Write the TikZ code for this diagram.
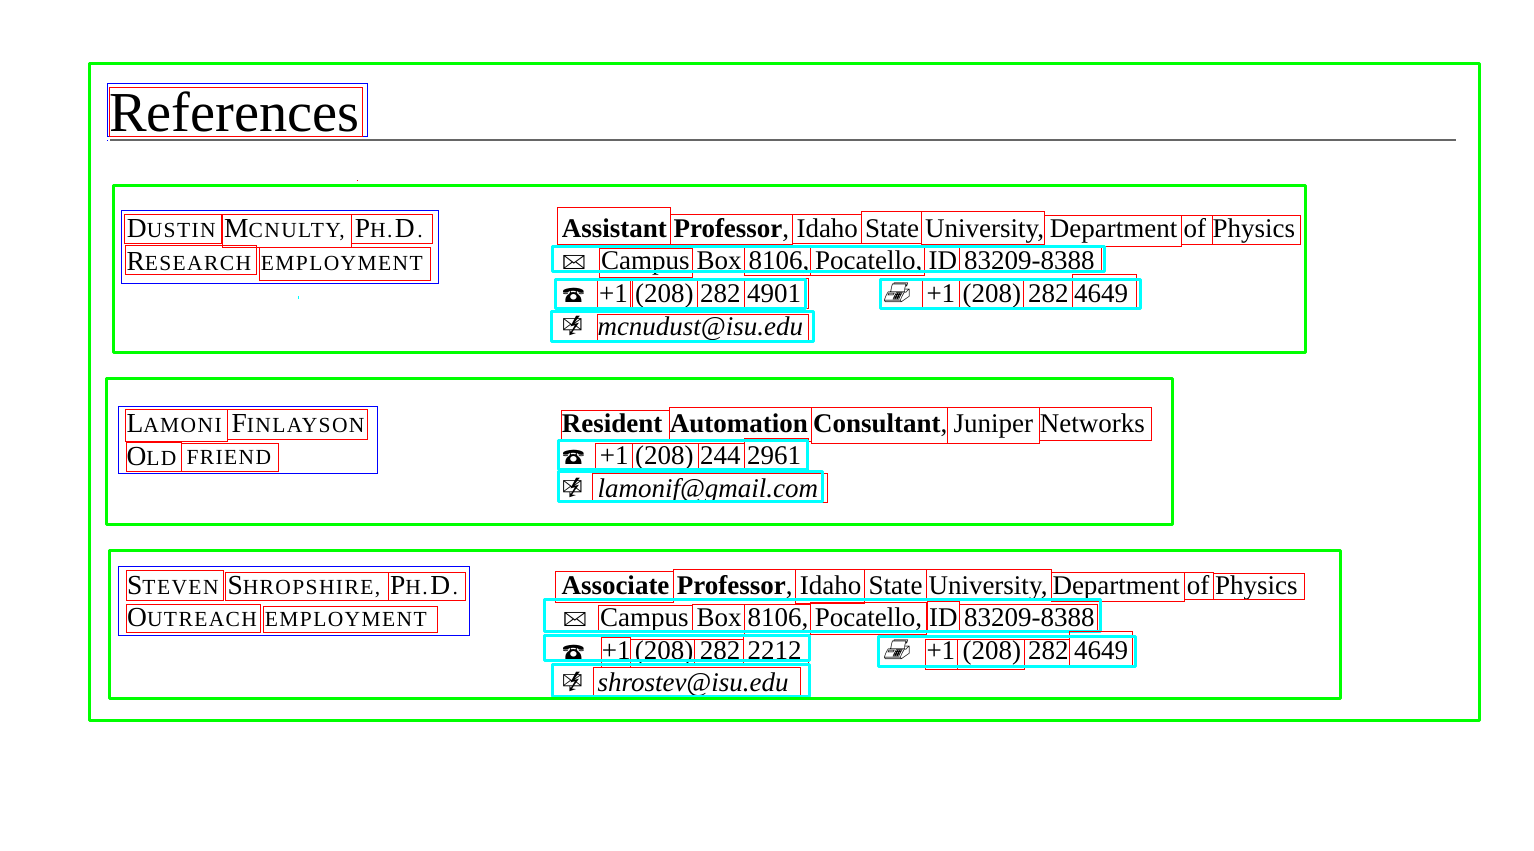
\documentclass[tikz,border=0pt]{standalone}
\usepackage{fontspec}
\usepackage{marvosym}
\setmainfont{Liberation Serif}
\newfontfamily\spf[LetterSpace=6.5]{Liberation Serif}
\newcounter{wordno}
\newcommand{\Bd}{\fontsize{27}{27}\selectfont}
\newcommand{\Sc}[2]{{\spf\fontsize{27.5}{27.5}\selectfont #1\fontsize{21.5}{21.5}\selectfont #2}}
\newcommand{\PhD}{{\spf\fontsize{27.5}{27.5}\selectfont P\fontsize{21.5}{21.5}\selectfont H.\hspace{2.5pt}\fontsize{27.5}{27.5}\selectfont D\hspace{2.5pt}\fontsize{21.5}{21.5}\selectfont .}}
\newcommand{\Tx}[3]{\stepcounter{wordno}\node[wordtext] (w\thewordno) at ([xshift=-0.8pt]#1,#2) {#3};}
\newcommand{\Tb}[3]{\stepcounter{wordno}\node[wordtext] (w\thewordno) at ([xshift=-0.8pt,yshift=-1pt]#1,#2) {#3};}
\newcommand{\Rb}[4]{\draw[redbox] (#1,#2) rectangle (#3,#4);}
\newcommand{\Blu}[4]{\draw[bluebox] (#1,#2) rectangle (#3,#4);}
\newcommand{\Cy}[4]{\draw[cyanbox] (#1,#2) rectangle (#3,#4);}
\newcommand{\Gr}[4]{\draw[greenbox] (#1,#2) rectangle (#3,#4);}
\definecolor{cyanx}{RGB}{0,255,255}
\definecolor{greenx}{RGB}{0,255,0}
\definecolor{redx}{RGB}{255,0,0}
\definecolor{bluex}{RGB}{0,0,255}
\tikzset{
  wordtext/.style={anchor=base west,inner sep=0pt,outer sep=0pt,font=\Bd},
  redbox/.style={draw=redx,line width=0.8pt},
  bluebox/.style={draw=bluex,line width=0.8pt},
  cyanbox/.style={draw=cyanx,line width=3pt,line join=round},
  greenbox/.style={draw=greenx,line width=3pt,line join=round}
}
\begin{document}
\begin{tikzpicture}[x=1pt,y=-1pt]
\useasboundingbox (0,0) rectangle (1534,851);
\fill[white] (0,0) rectangle (1534,851);
% title
\node[wordtext,font=\fontsize{56.4}{56.4}\selectfont] (title) at (109,131) {References};
\draw[gray!80!black,line width=1.4pt] (110,140) -- (1456,140);
\Blu{107.3}{83.7}{367.3}{136.7}
\Rb{109.3}{87.7}{362.7}{136.7}
\fill[bluex] (107,140) rectangle (108,141);
\fill[redx] (357,180) rectangle (358,181);
\fill[cyanx] (297.5,296) rectangle (298.5,299);
% ---- block 1
\Tx{127.7}{237}{\Sc{D}{USTIN}}
\Tx{225}{237}{\Sc{M}{CNULTY,}}
\Tx{355.7}{237}{\PhD}
\Tx{127.3}{270}{\Sc{R}{ESEARCH}}
\Tx{261.7}{270}{\Sc{}{EMPLOYMENT}}
\Blu{121.7}{210.3}{438.3}{283.3}
\Rb{124.3}{214.3}{221.7}{243.3}
\Rb{222.3}{214.3}{351.3}{247.3}
\Rb{351.3}{214.3}{432.3}{243.3}
\Rb{125.7}{245.7}{256.3}{274.3}
\Rb{259.3}{247.3}{430.3}{280.3}
\Tb{562.7}{236.7}{\textbf{Assistant}}
\Tb{674.3}{236.7}{\textbf{Professor},}
\Tb{797.3}{236.7}{Idaho}
\Tb{866}{236.7}{State}
\Tb{926}{236.7}{University,}
\Tb{1050.7}{236.7}{Department}
\Tb{1184.3}{236.7}{of}
\Tb{1213.3}{236.7}{Physics}
\Rb{557.3}{207.3}{670.7}{244.7}
\Rb{670.7}{214.7}{792.3}{244.7}
\Rb{792.3}{214.7}{861.3}{243}
\Rb{861.3}{211.3}{921.3}{243}
\Rb{921.7}{211.3}{1044.7}{244.7}
\Rb{1044.7}{215.3}{1181.3}{246.3}
\Rb{1181.3}{215.3}{1212.3}{244}
\Rb{1212.3}{215.3}{1300.3}{244}
\Tb{563}{268.8}{\Letter}
\Tb{602}{268.8}{Campus}
\Tb{697.3}{268.8}{Box}
\Tb{749.3}{268.8}{8106,}
\Tb{816}{268.8}{Pocatello,}
\Tb{929.3}{268.8}{ID}
\Tb{965}{268.8}{83209-8388}
\Rb{599.3}{248.3}{692.3}{277.3}
\Rb{692.3}{244.3}{744.3}{271.7}
\Rb{744.3}{246}{810.7}{275.3}
\Rb{810.7}{246}{924.3}{275.3}
\Rb{924.7}{244.3}{959.7}{271.7}
\Rb{959.7}{246.7}{1101.7}{271.7}
\Cy{552.3}{246}{1104}{271.7}
\Tb{563}{301.7}{\Telefon}
\Tb{600}{301.7}{+1}
\Tb{636}{301.7}{(208)}
\Tb{701}{301.7}{282}
\Tb{748}{301.7}{4901}
\Rb{597.3}{279.3}{630.7}{307.3}
\Rb{632.7}{279.3}{697.3}{309.3}
\Rb{697.3}{279.3}{744}{308.3}
\Rb{744}{278.3}{808.3}{308.3}
\Cy{555}{279.3}{805}{308.3}
\Tb{885}{301.7}{\Faxmachine}
\Tb{927.3}{301.7}{+1}
\Tb{963.3}{301.7}{(208)}
\Tb{1029}{301.7}{282}
\Tb{1075}{301.7}{4649}
\Rb{922.7}{279.3}{959.7}{308}
\Rb{959.7}{279.3}{1023.3}{308}
\Rb{1023.3}{279.3}{1072.7}{308}
\Rb{1072.7}{274.7}{1136.7}{308}
\Cy{880}{279.3}{1140}{308.3}
\Tb{563}{334}{\Email}
\Tb{598.3}{334.3}{\textit{mcnudust@isu.edu}}
\Rb{597.3}{314.3}{808.3}{340}
\Cy{551.7}{311.7}{813.3}{341.7}
% ---- block 2
\Tx{127.3}{432.3}{\Sc{L}{AMONI}}
\Tx{232.3}{432.3}{\Sc{F}{INLAYSON}}
\Tx{127.3}{465}{\Sc{O}{LD}}
\Tx{187.3}{464.5}{\Sc{}{FRIEND}}
\Blu{118.3}{406.3}{377.3}{473.3}
\Rb{125.7}{409.3}{227.7}{441.3}
\Rb{227.7}{409.3}{367.7}{439.3}
\Rb{126.3}{442}{181.7}{471.3}
\Rb{181.7}{443.3}{278.3}{471.3}
\Tb{562.7}{431.7}{\textbf{Resident}}
\Tb{670.7}{431.7}{\textbf{Automation}}
\Tb{814}{431.7}{\textbf{Consultant},}
\Tb{954.3}{431.7}{Juniper}
\Tb{1040.7}{431.7}{Networks}
\Rb{561.7}{410.3}{669.3}{441.7}
\Rb{669.3}{407.3}{811.3}{441}
\Rb{811.3}{407.3}{947.3}{443.3}
\Rb{947.3}{407.3}{1039.3}{443.3}
\Rb{1039.3}{407.3}{1151.3}{440.3}
\Tb{563}{463.5}{\Telefon}
\Tb{600.7}{463.5}{+1}
\Tb{636}{463.5}{(208)}
\Tb{701}{463.5}{244}
\Tb{748}{463.5}{2961}
\Rb{595.7}{443}{632.7}{469}
\Rb{632.7}{443}{698.3}{469}
\Rb{698.3}{443}{744}{469}
\Rb{744}{438.3}{808.3}{469.3}
\Cy{558.3}{440.7}{807.7}{469.3}
\Tb{563}{496}{\Email}
\Tb{598.3}{496.7}{\textit{lamonif@gmail.com}}
\Rb{592.7}{473.3}{827.3}{502.3}
\Cy{558.3}{471}{822.3}{501.7}
% ---- block 3
\Tx{128}{594}{\Sc{S}{TEVEN}}
\Tx{228.3}{594}{\Sc{S}{HROPSHIRE,}}
\Tx{391}{594}{\PhD}
\Tx{128}{626}{\Sc{O}{UTREACH}}
\Tx{265.7}{626}{\Sc{}{EMPLOYMENT}}
\Blu{118.3}{566.3}{469.3}{635.3}
\Rb{126.3}{570.3}{223.7}{600.3}
\Rb{225.7}{572.7}{388.3}{600.3}
\Rb{388.3}{572.7}{465.7}{600.3}
\Rb{126.3}{604.7}{260.7}{632.3}
\Rb{263.3}{606.3}{437.7}{632.3}
\Tb{562.3}{593.3}{\textbf{Associate}}
\Tb{677.7}{593.3}{\textbf{Professor},}
\Tb{800.7}{593.3}{Idaho}
\Tb{869.3}{593.3}{State}
\Tb{929.3}{593.3}{University,}
\Tb{1053.3}{593.3}{Department}
\Tb{1187.7}{593.3}{of}
\Tb{1216}{593.3}{Physics}
\Rb{555.3}{571.7}{673}{602.3}
\Rb{673}{569.7}{795.3}{600}
\Rb{795.3}{569.7}{864.3}{603.3}
\Rb{864.3}{569.7}{926.3}{600}
\Rb{926.3}{569.7}{1051.7}{600}
\Rb{1051.7}{572.7}{1184.3}{601.3}
\Rb{1184.3}{572.7}{1213.3}{599.3}
\Rb{1213.3}{573.3}{1304.3}{599.3}
\Tb{564}{625.5}{\Letter}
\Tb{601}{625.5}{Campus}
\Tb{697.3}{625.5}{Box}
\Tb{748.3}{625.5}{8106,}
\Tb{815.7}{625.5}{Pocatello,}
\Tb{930}{625.5}{ID}
\Tb{965}{625.5}{83209-8388}
\Rb{598.3}{605}{692.3}{631.7}
\Rb{692.3}{604.3}{744.3}{631.7}
\Rb{744.3}{604.3}{810.7}{634}
\Rb{810.7}{602.7}{926.7}{634}
\Rb{927.3}{601.7}{959.3}{631.7}
\Rb{959.3}{604.3}{1097.7}{631.7}
\Cy{544}{599.3}{1100}{631.7}
\Tb{563}{658.3}{\Telefon}
\Tb{602.7}{658.3}{+1}
\Tb{635.7}{658.3}{(208)}
\Tb{700.7}{658.3}{282}
\Tb{748.3}{658.3}{2212}
\Rb{601.3}{637.3}{630.7}{667.3}
\Rb{630.7}{639.3}{694.3}{660}
\Rb{694.3}{639.3}{743}{665}
\Rb{743}{636.3}{808.3}{665}
\Cy{544}{635.7}{809}{660}
\Tb{885}{658.3}{\Faxmachine}
\Tb{927.3}{658.3}{+1}
\Tb{963.3}{658.3}{(208)}
\Tb{1029}{658.3}{282}
\Tb{1075}{658.3}{4649}
\Rb{925.7}{639}{957.7}{669}
\Rb{957.7}{639}{1024}{669}
\Rb{1024}{639}{1069.7}{665}
\Rb{1069.7}{631}{1132.3}{666.7}
\Cy{878.3}{636.3}{1135}{666.7}
\Tb{563}{690}{\Email}
\Tb{598.3}{690.7}{\textit{shrostev@isu.edu}}
\Rb{593.7}{667.3}{800.7}{695}
\Cy{552.3}{664.3}{809}{696}
% ---- green frames
\Gr{89.5}{64}{1479}{720}
\Gr{113.5}{185.5}{1305}{352}
\Gr{106.5}{378}{1172}{524}
\Gr{109.5}{550}{1340}{698}
\end{tikzpicture}
\end{document}
